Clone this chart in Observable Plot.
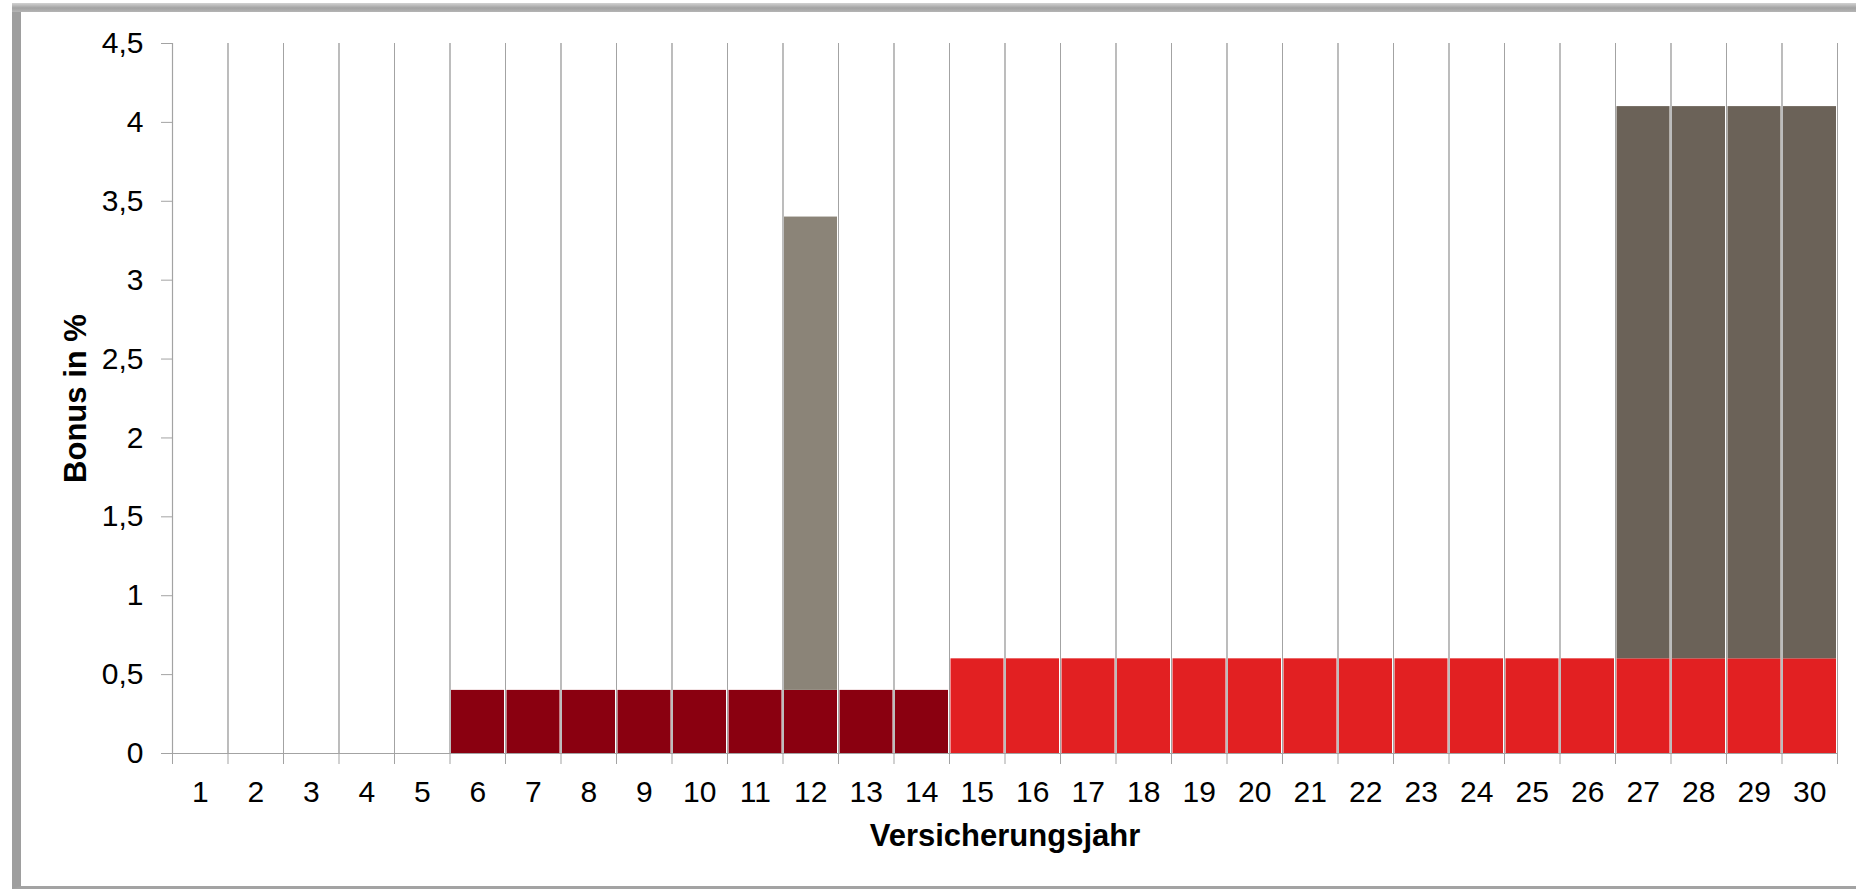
<!DOCTYPE html>
<html>
<head>
<meta charset="utf-8">
<script src="https://cdn.jsdelivr.net/npm/d3@7"></script>
<script src="https://cdn.jsdelivr.net/npm/@observablehq/plot@0.6"></script>
<style>
  html, body { margin: 0; padding: 0; background: #fff; }
  #wrap { position: relative; width: 1856px; height: 889px; overflow: hidden; }
  #frame { position: absolute; left: 12px; top: 3px; right: -20px; bottom: 0px;
           border-left: 9px solid #9e9e9e; border-bottom: 3px solid #a3a3a3; box-sizing: border-box; }
  #frameTop { position: absolute; left: 12px; top: 3px; right: 0; height: 9px;
              background: linear-gradient(#d2d2d2, #a2a2a2 55%, #b4b4b4); }
  #chart { position: absolute; left: 0; top: 0; }
</style>
</head>
<body>
<div id="wrap">
  <div id="frame"></div>
  <div id="frameTop"></div>
  <div id="chart"></div>
</div>
<script>
// ---- data ----
const years = [1,2,3,4,5,6,7,8,9,10,11,12,13,14,15,16,17,18,19,20,21,22,23,24,25,26,27,28,29,30];
const grundBonus  = [0,0,0,0,0,0.4,0.4,0.4,0.4,0.4,0.4,0.4,0.4,0.4,0.6,0.6,0.6,0.6,0.6,0.6,0.6,0.6,0.6,0.6,0.6,0.6,0.6,0.6,0.6,0.6];
const grundArt    = ["","","","","","Stufe 1","Stufe 1","Stufe 1","Stufe 1","Stufe 1","Stufe 1","Stufe 1","Stufe 1","Stufe 1",
                     "Stufe 2","Stufe 2","Stufe 2","Stufe 2","Stufe 2","Stufe 2","Stufe 2","Stufe 2","Stufe 2","Stufe 2","Stufe 2","Stufe 2","Stufe 2","Stufe 2","Stufe 2","Stufe 2"];
const zusatzBonus = [0,0,0,0,0,0,0,0,0,0,0,3.0,0,0,0,0,0,0,0,0,0,0,0,0,0,0,3.5,3.5,3.5,3.5];
const zusatzArt   = ["","","","","","","","","","","","Sonderbonus","","","","","","","","","","","","","","","Schlussbonus","Schlussbonus","Schlussbonus","Schlussbonus"];
const yTicks = [0,0.5,1,1.5,2,2.5,3,3.5,4,4.5];
const xTitle = "Versicherungsjahr";
const yTitle = "Bonus in %";
const artDomain = ["Stufe 1","Stufe 2","Sonderbonus","Schlussbonus"];
const artColors = ["#8a0010","#e22022","#8b8478","#6b6258"];

// ---- build stacked rows ----
const rows = [];
years.forEach((yr, i) => {
  if (grundBonus[i] > 0) rows.push({year: yr, y1: 0, y2: grundBonus[i], art: grundArt[i]});
  if (zusatzBonus[i] > 0) rows.push({year: yr, y1: grundBonus[i], y2: grundBonus[i] + zusatzBonus[i], art: zusatzArt[i]});
});
const boundaries = [years[0] - 0.5, ...years.map(y => y + 0.5)];
const gridColor = "#a3a3a3";
const fmt = d => String(d).replace(".", ",");

const chart = Plot.plot({
  width: 1856,
  height: 889,
  marginLeft: 172,
  marginRight: 19,
  marginTop: 43,
  marginBottom: 136,
  style: { fontFamily: "'Liberation Sans', Arial, sans-serif", background: "transparent", color: "#000" },
  x: { type: "linear", domain: [boundaries[0], boundaries[boundaries.length - 1]], label: null },
  y: { domain: [0, 4.5], label: null },
  color: { domain: artDomain, range: artColors },
  marks: [
    Plot.ruleX(boundaries, { y1: 0, y2: 4.5, stroke: gridColor, strokeWidth: 1 }),
    Plot.rectY(rows, {
      x1: d => d.year - 0.5, x2: d => d.year + 0.5,
      y1: "y1", y2: "y2", fill: "art", insetLeft: 1.5, insetRight: 1
    }),
    Plot.ruleX(boundaries.slice(1), { y1: 0, y2: 4.5, stroke: gridColor, strokeWidth: 1, strokeOpacity: 0.9 }),
    Plot.ruleY([0], { stroke: gridColor, strokeWidth: 1.2 }),
    Plot.ruleX([boundaries[0]], { y1: 0, y2: 4.5, stroke: gridColor, strokeWidth: 1.2 }),
    Plot.axisY({ ticks: yTicks, tickSize: 11, tickPadding: 18, tickFormat: fmt, fontSize: 30, stroke: gridColor, fill: "#000", label: null }),
    Plot.axisX({ ticks: boundaries, tickSize: 11, tickFormat: () => "", stroke: gridColor, label: null }),
    Plot.axisX({ ticks: years, tickSize: 0, tickPadding: 27, tickFormat: d => String(d), fontSize: 30, fill: "#000", label: null }),
    Plot.text([xTitle], { frameAnchor: "bottom", lineAnchor: "top", dy: 70, fontSize: 31, fontWeight: "bold", fill: "#000" }),
    Plot.text([yTitle], { frameAnchor: "left", textAnchor: "middle", lineAnchor: "top", rotate: -90, dx: -109, dy: 0, fontSize: 31, fontWeight: "bold", fill: "#000" })
  ]
});
document.getElementById("chart").appendChild(chart);
</script>
</body>
</html>
